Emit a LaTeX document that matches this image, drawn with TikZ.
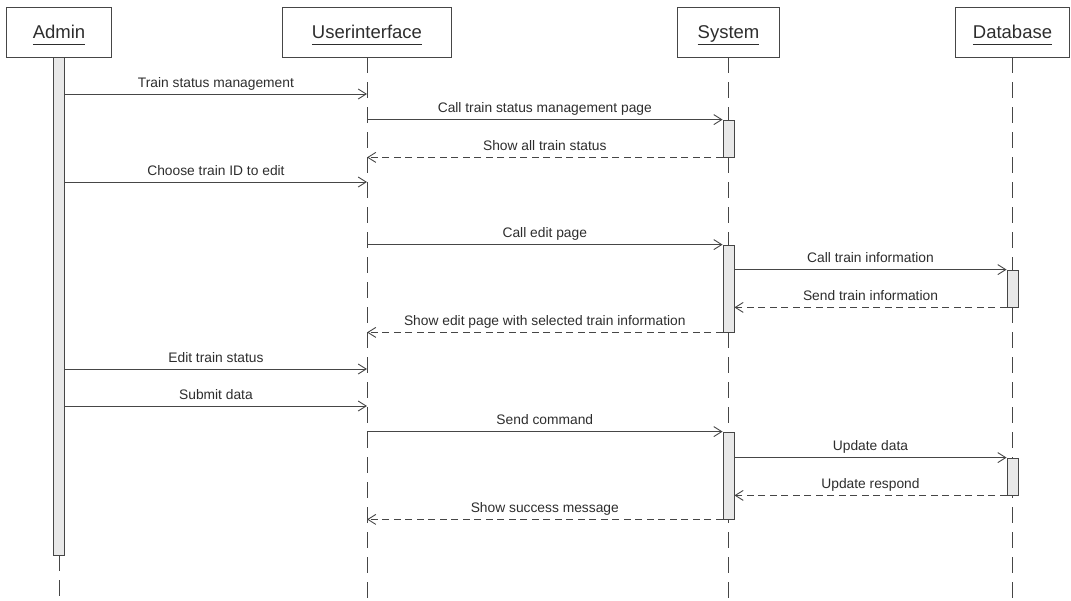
\documentclass[tikz,border=0pt]{standalone}
\usepackage{fontspec}
\setmainfont{Liberation Sans}
\usetikzlibrary{arrows.meta,positioning,calc}
\definecolor{umlLine}{RGB}{70,70,70}
\definecolor{umlText}{RGB}{45,45,45}
\definecolor{umlBar}{RGB}{232,232,232}
\newcommand{\headname}[1]{\underline{#1\vphantom{y}}}

\begin{document}
\begin{tikzpicture}[x=1pt, y={(0,-1pt)},
    head/.style={rectangle, draw=umlLine, line width=0.8pt, minimum height=50pt,
                 inner sep=0pt, text=umlText, text height=16pt, text depth=3pt,
                 font=\fontsize{18.5}{22}\selectfont},
    actbar/.style={rectangle, draw=umlLine, fill=umlBar, line width=0.8pt,
                   minimum width=11pt, inner sep=0pt},
    life/.style={umlLine, line width=0.9pt, dash pattern=on 16pt off 9pt},
    call/.style={-{Straight Barb[length=8pt, width=10pt]}, umlLine, line width=0.9pt},
    ret/.style={call, dash pattern=on 7pt off 4.5pt},
    lbl/.style={midway, anchor=base, yshift=7pt, inner sep=0pt, text=umlText,
                font=\fontsize{13.8}{16}\selectfont}
  ]
  \useasboundingbox (0,0) rectangle (1071,600);
  \coordinate (bot) at (0,600);

  % participants
  \node[head, minimum width=105pt] (admin) at (59,32) {\headname{Admin}};
  \node[head, minimum width=169pt] (ui) at (367,32) {\headname{Userinterface}};
  \node[head, minimum width=102pt] (sys) at (728.5,32) {\headname{System}};
  \node[head, minimum width=114pt] (db) at (1012.5,32) {\headname{Database}};
  \node[actbar, minimum height=498pt] (abar) at (59,306) {};

  % lifelines
  \draw[life] (abar.south) -- (abar.south |- bot);
  \draw[life] (ui.south) -- (ui.south |- bot);
  \draw[life] (sys.south) -- (sys.south |- bot);
  \draw[life] (db.south) -- (db.south |- bot);

  % activations
  \node[actbar, minimum height=37pt] (s1) at (728.5,138.5) {};
  \node[actbar, minimum height=87pt] (s2) at (728.5,288.5) {};
  \node[actbar, minimum height=37pt] (d1) at (1012.5,288.5) {};
  \node[actbar, minimum height=87pt] (s3) at (728.5,475.5) {};
  \node[actbar, minimum height=37pt] (d2) at (1012.5,476.5) {};

  % messages
  \coordinate (m1) at (abar.east |- 0,94);
  \coordinate (m4) at (abar.east |- 0,182);
  \coordinate (m9) at (abar.east |- 0,369);
  \coordinate (m10) at (abar.east |- 0,406);

  \draw[call] (m1) -- (ui |- m1) node[lbl] {Train status management};
  \draw[call] (ui |- s1.north) -- (s1.north west) node[lbl] {Call train status management page};
  \draw[ret] (s1.south west) -- (ui |- s1.south) node[lbl] {Show all train status};
  \draw[call] (m4) -- (ui |- m4) node[lbl] {Choose train ID to edit};
  \draw[call] (ui |- s2.north) -- (s2.north west) node[lbl] {Call edit page};
  \draw[call] (s2.east |- d1.north) -- (d1.north west) node[lbl] {Call train information};
  \draw[ret] (d1.south west) -- (s2.east |- d1.south) node[lbl] {Send train information};
  \draw[ret] (s2.south west) -- (ui |- s2.south) node[lbl] {Show edit page with selected train information};
  \draw[call] (m9) -- (ui |- m9) node[lbl] {Edit train status};
  \draw[call] (m10) -- (ui |- m10) node[lbl] {Submit data};
  \draw[call] (ui |- s3.north) -- (s3.north west) node[lbl] {Send command};
  \draw[call] (s3.east |- d2.north) -- (d2.north west) node[lbl] {Update data};
  \draw[ret] (d2.south west) -- (s3.east |- d2.south) node[lbl] {Update respond};
  \draw[ret] (s3.south west) -- (ui |- s3.south) node[lbl] {Show success message};
\end{tikzpicture}
\end{document}
